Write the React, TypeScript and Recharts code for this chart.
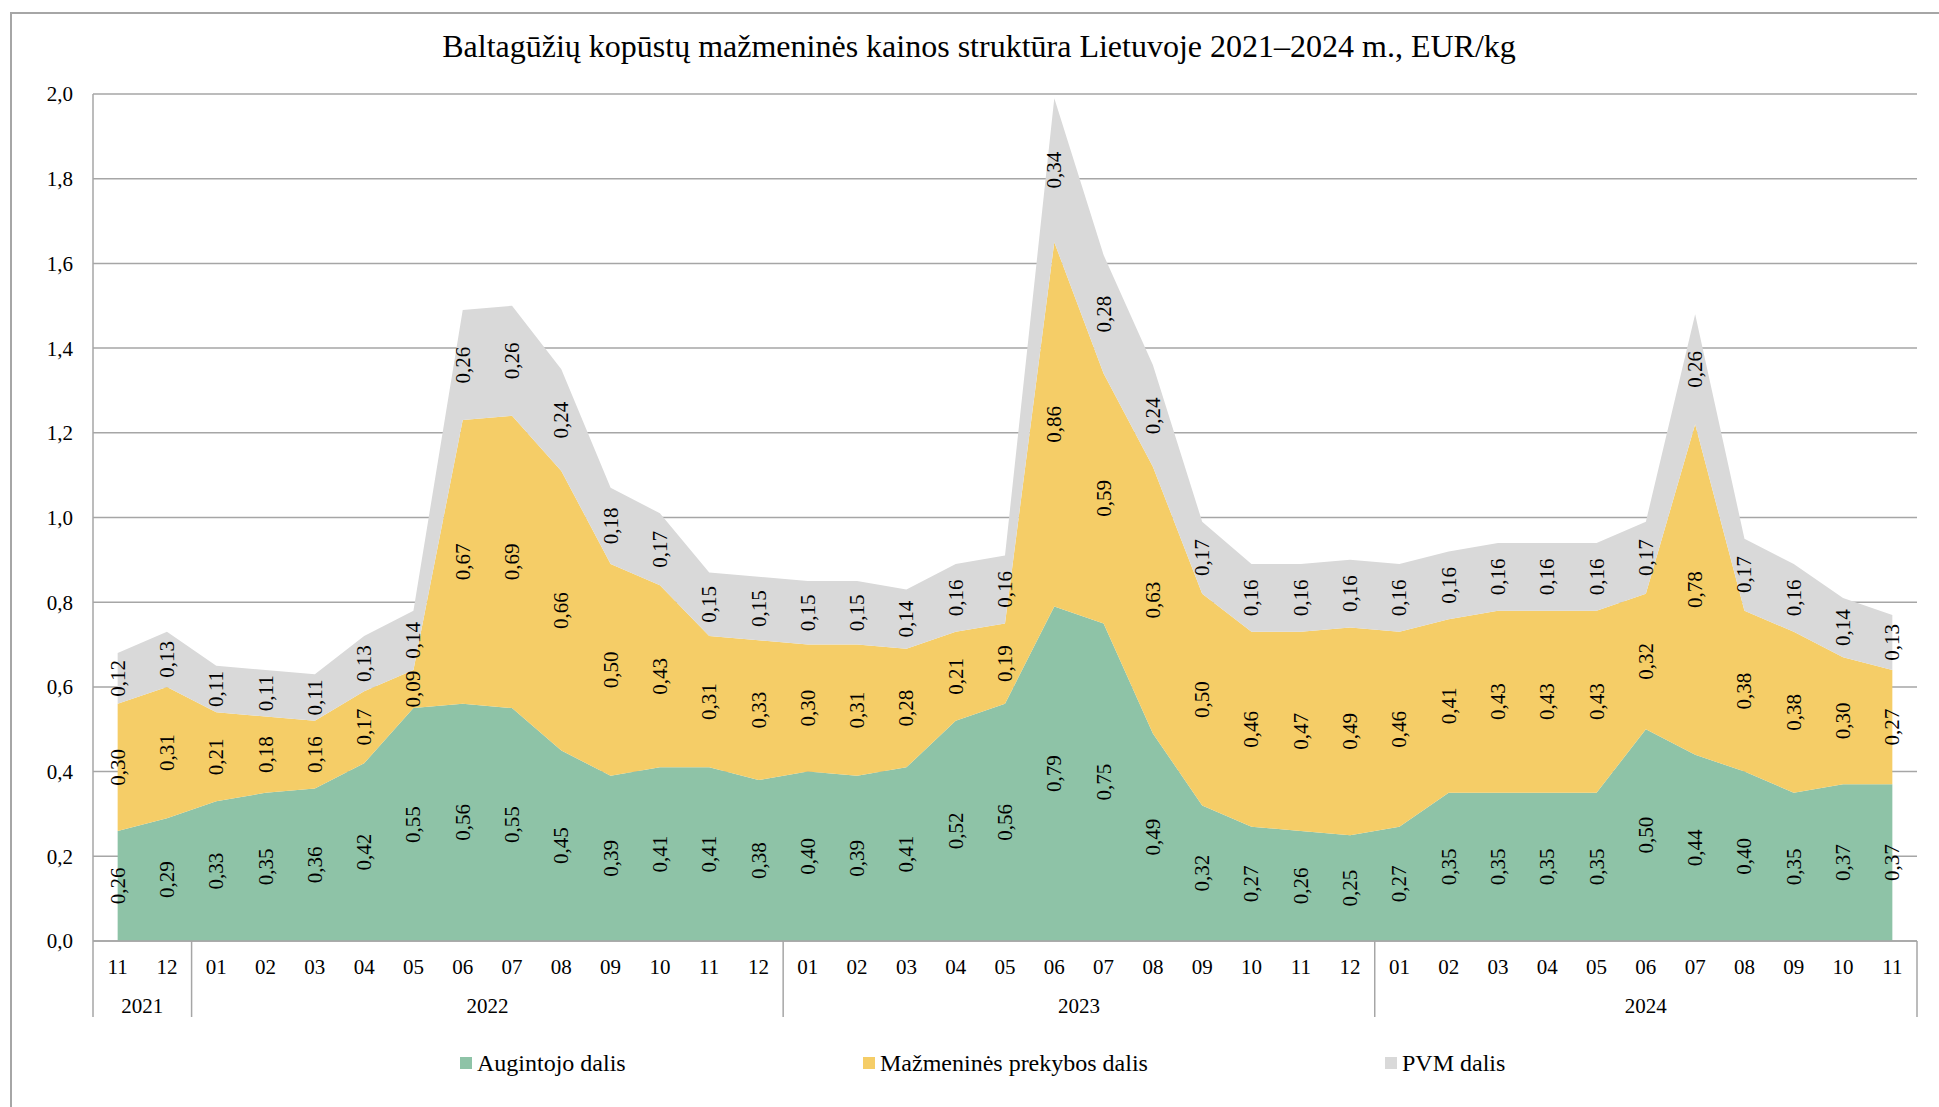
import React from "react";
import {
  ComposedChart,
  Area,
  Line,
  XAxis,
  YAxis,
  CartesianGrid,
  LabelList,
  Legend,
} from "recharts";

const MONTHS = [
  "11", "12",
  "01", "02", "03", "04", "05", "06", "07", "08", "09", "10", "11", "12",
  "01", "02", "03", "04", "05", "06", "07", "08", "09", "10", "11", "12",
  "01", "02", "03", "04", "05", "06", "07", "08", "09", "10", "11",
];
const YEAR_LABELS = ["2021", "2022", "2023", "2024"];
const YEAR_LENGTHS = [2, 12, 12, 11];

const AUGINTOJO = [
  0.26, 0.29, 0.33, 0.35, 0.36, 0.42, 0.55, 0.56, 0.55, 0.45, 0.39, 0.41, 0.41, 0.38,
  0.40, 0.39, 0.41, 0.52, 0.56, 0.79, 0.75, 0.49, 0.32, 0.27, 0.26, 0.25,
  0.27, 0.35, 0.35, 0.35, 0.35, 0.50, 0.44, 0.40, 0.35, 0.37, 0.37,
];
const MAZMENINES = [
  0.30, 0.31, 0.21, 0.18, 0.16, 0.17, 0.09, 0.67, 0.69, 0.66, 0.50, 0.43, 0.31, 0.33,
  0.30, 0.31, 0.28, 0.21, 0.19, 0.86, 0.59, 0.63, 0.50, 0.46, 0.47, 0.49,
  0.46, 0.41, 0.43, 0.43, 0.43, 0.32, 0.78, 0.38, 0.38, 0.30, 0.27,
];
const PVM = [
  0.12, 0.13, 0.11, 0.11, 0.11, 0.13, 0.14, 0.26, 0.26, 0.24, 0.18, 0.17, 0.15, 0.15,
  0.15, 0.15, 0.14, 0.16, 0.16, 0.34, 0.28, 0.24, 0.17, 0.16, 0.16, 0.16,
  0.16, 0.16, 0.16, 0.16, 0.16, 0.17, 0.26, 0.17, 0.16, 0.14, 0.13,
];
const Y_TICKS = [0, 0.2, 0.4, 0.6, 0.8, 1.0, 1.2, 1.4, 1.6, 1.8, 2.0];

const SERIES = [
  { key: "aug", name: "Augintojo dalis", color: "#8ec3a7" },
  { key: "mazm", name: "Mažmeninės prekybos dalis", color: "#f5cd67" },
  { key: "pvm", name: "PVM dalis", color: "#d9d9d9" },
];

const FONT = "'Liberation Serif', 'Times New Roman', serif";
const W = 1939;
const H = 1107;
const PLOT_LEFT = 93;
const PLOT_RIGHT = 1917;
const PLOT_TOP = 94;
const PLOT_BOTTOM = 941;
const Y_AXIS_W = 80;
const X_AXIS_H = 30;
const BAND = (PLOT_RIGHT - PLOT_LEFT) / MONTHS.length;
const AXIS_COLOR = "#a6a6a6";
const LEGEND_X = [460, 863, 1385];
const TICK_FS = 21;
const LABEL_FS = 21;

// which year each point belongs to, and where each year group starts
const groupStart: Record<number, { label: string; len: number }> = {};
const yearOf: string[] = [];
{
  let i = 0;
  YEAR_LABELS.forEach((y, g) => {
    groupStart[i] = { label: y, len: YEAR_LENGTHS[g] };
    for (let k = 0; k < YEAR_LENGTHS[g]; k++) yearOf.push(y);
    i += YEAR_LENGTHS[g];
  });
}

const data = MONTHS.map((m, i) => ({
  period: `${yearOf[i]}-${m}`,
  aug: AUGINTOJO[i],
  mazm: MAZMENINES[i],
  pvm: PVM[i],
}));

const fmt = (v: number) => v.toFixed(2).replace(".", ",");

const MonthTick = (props: any) => {
  const { x, y, index } = props;
  const g = groupStart[index];
  const last = index === MONTHS.length - 1;
  return (
    <g>
      <text x={x} y={y + 26} textAnchor="middle" dominantBaseline="central"
        fontSize={TICK_FS} fontFamily={FONT} fill="#000">
        {MONTHS[index]}
      </text>
      {g && (
        <>
          <line x1={x - BAND / 2} x2={x - BAND / 2} y1={y} y2={y + 76}
            stroke={AXIS_COLOR} strokeWidth={1.5} />
          <text x={x + ((g.len - 1) / 2) * BAND} y={y + 65} textAnchor="middle"
            dominantBaseline="central" fontSize={TICK_FS} fontFamily={FONT} fill="#000">
            {g.label}
          </text>
        </>
      )}
      {last && (
        <line x1={x + BAND / 2} x2={x + BAND / 2} y1={y} y2={y + 76}
          stroke={AXIS_COLOR} strokeWidth={1.5} />
      )}
    </g>
  );
};

const renderLabel = (props: any) => {
  const { x, y, value } = props;
  if (x == null || y == null || value == null) return null;
  return (
    <text x={x} y={y} transform={`rotate(-90 ${x} ${y})`} textAnchor="middle"
      dominantBaseline="central" fontSize={LABEL_FS} fontFamily={FONT} fill="#000">
      {fmt(Number(value))}
    </text>
  );
};

const renderLegend = () => (
  <div style={{ position: "relative", width: W, height: 24, fontFamily: FONT }}>
    {SERIES.map((s, i) => (
      <div key={s.key} style={{
        position: "absolute", left: LEGEND_X[i], top: 0, height: 24,
        display: "flex", alignItems: "center", whiteSpace: "nowrap",
      }}>
        <span style={{ width: 12, height: 12, background: s.color, display: "inline-block", marginRight: 5 }} />
        <span style={{ fontSize: 24, lineHeight: "24px", color: "#000" }}>{s.name}</span>
      </div>
    ))}
  </div>
);

export default function App() {
  return (
    <div style={{ position: "absolute", left: 0, top: 0, width: W, height: H, overflow: "hidden", background: "#fff" }}>
      <div style={{
        position: "absolute", left: 10, top: 12, width: W + 20, height: H + 20,
        border: `2px solid ${AXIS_COLOR}`, boxSizing: "border-box",
      }} />
      <div style={{
        position: "absolute", left: 0, top: 30, width: 1958, textAlign: "center",
        fontFamily: FONT, fontSize: 32, lineHeight: "32px", color: "#000", whiteSpace: "nowrap",
      }}>
        Baltagūžių kopūstų mažmeninės kainos struktūra Lietuvoje 2021–2024 m., EUR/kg
      </div>
      <div style={{ position: "absolute", left: 0, top: 0 }}>
        <ComposedChart
          width={W}
          height={H}
          data={data}
          margin={{
            top: PLOT_TOP,
            right: W - PLOT_RIGHT,
            left: PLOT_LEFT - Y_AXIS_W,
            bottom: H - PLOT_BOTTOM - X_AXIS_H,
          }}
        >
          <CartesianGrid vertical={false} stroke={AXIS_COLOR} strokeWidth={1.5} />
          <XAxis
            dataKey="period"
            interval={0}
            height={X_AXIS_H}
            padding={{ left: BAND / 2, right: BAND / 2 }}
            tickLine={false}
            tickSize={0}
            tickMargin={0}
            axisLine={{ stroke: AXIS_COLOR, strokeWidth: 1.5 }}
            tick={<MonthTick />}
          />
          <YAxis
            width={Y_AXIS_W}
            domain={[0, 2]}
            ticks={Y_TICKS}
            interval={0}
            tickLine={false}
            tickSize={0}
            tickMargin={20}
            axisLine={{ stroke: AXIS_COLOR, strokeWidth: 1.5 }}
            tickFormatter={(v: number) => v.toFixed(1).replace(".", ",")}
            tick={{ fontSize: TICK_FS, fontFamily: FONT, fill: "#000" }}
          />
          {SERIES.map((s) => (
            <Area
              key={s.key}
              type="linear"
              dataKey={s.key}
              name={s.name}
              stackId="1"
              stroke="none"
              fill={s.color}
              fillOpacity={1}
              isAnimationActive={false}
              activeDot={false}
            />
          ))}
          <Line dataKey={(d: any) => d.aug / 2} stroke="none" dot={false} activeDot={false}
            legendType="none" isAnimationActive={false}>
            <LabelList dataKey="aug" content={renderLabel} />
          </Line>
          <Line dataKey={(d: any) => d.aug + d.mazm / 2} stroke="none" dot={false} activeDot={false}
            legendType="none" isAnimationActive={false}>
            <LabelList dataKey="mazm" content={renderLabel} />
          </Line>
          <Line dataKey={(d: any) => d.aug + d.mazm + d.pvm / 2} stroke="none" dot={false} activeDot={false}
            legendType="none" isAnimationActive={false}>
            <LabelList dataKey="pvm" content={renderLabel} />
          </Line>
          <Legend
            layout="horizontal"
            verticalAlign="middle"
            align="center"
            content={renderLegend}
            wrapperStyle={{ top: 1051, left: 0, width: W }}
          />
        </ComposedChart>
      </div>
    </div>
  );
}
